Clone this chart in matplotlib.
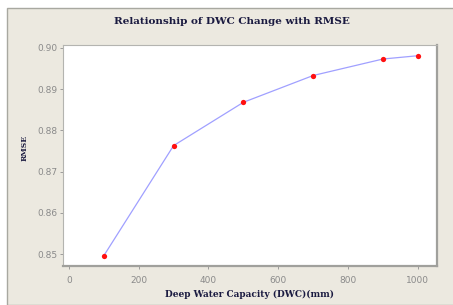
import matplotlib.pyplot as plt
from matplotlib.patches import Rectangle

# data
dwc = [100, 300, 500, 700, 900, 1000]
rmse = [0.8496, 0.8763, 0.8868, 0.8933, 0.8973, 0.8981]
x_ticks = [0, 200, 400, 600, 800, 1000]
y_ticks = [0.85, 0.86, 0.87, 0.88, 0.89, 0.90]

W, H = 453, 305
fig = plt.figure(figsize=(W / 100, H / 100), dpi=100, facecolor='white')

# beige panel with a thin grey frame
fig.patches.append(Rectangle((7 / W, 0), 1, 1 - 8 / H, transform=fig.transFigure,
                             facecolor='#ece9e0', edgecolor='#a8a8a0', linewidth=1.0, zorder=-10))

ax = fig.add_axes([63 / W, 39 / H, 374 / W, 221 / H])
ax.set_facecolor('white')
ax.plot(dwc, rmse, color='#a0a0ff', linewidth=0.9, zorder=2)
ax.plot(dwc, rmse, 'o', color='#ff1010', markersize=3.8, markeredgewidth=0, zorder=3)

ax.set_xlim(-17, 1055)
ax.set_ylim(0.8471, 0.9007)
ax.set_xticks(x_ticks)
ax.set_yticks(y_ticks)
ax.set_xticklabels([str(v) for v in x_ticks])
ax.set_yticklabels([f"{v:.2f}" for v in y_ticks])

for side in ['left', 'top']:
    ax.spines[side].set_color('#b4b4b0')
    ax.spines[side].set_linewidth(0.8)
for side in ['right', 'bottom']:
    ax.spines[side].set_color('#a0a09c')
    ax.spines[side].set_linewidth(1.6)

ax.tick_params(axis='both', direction='out', length=2, width=0.6, color='#909090',
               labelsize=6.5, labelcolor='#8a8a8a', pad=2)
ax.tick_params(axis='x', pad=5)

fig.text(232 / W, 1 - 22 / H, 'Relationship of DWC Change with RMSE', ha='center', va='center',
         fontsize=7.5, fontweight='bold', family='DejaVu Serif', color='#1a1a40')
fig.text(249 / W, 1 - 294 / H, 'Deep Water Capacity (DWC)(mm)', ha='center', va='center',
         fontsize=6.5, fontweight='bold', family='DejaVu Serif', color='#1a1a40')
fig.text(25 / W, 1 - 148 / H, 'RMSE', ha='center', va='center', rotation=90,
         fontsize=5.5, fontweight='bold', family='DejaVu Serif', color='#1a1a40')

fig.savefig('out.png', dpi=100, facecolor=fig.get_facecolor())
